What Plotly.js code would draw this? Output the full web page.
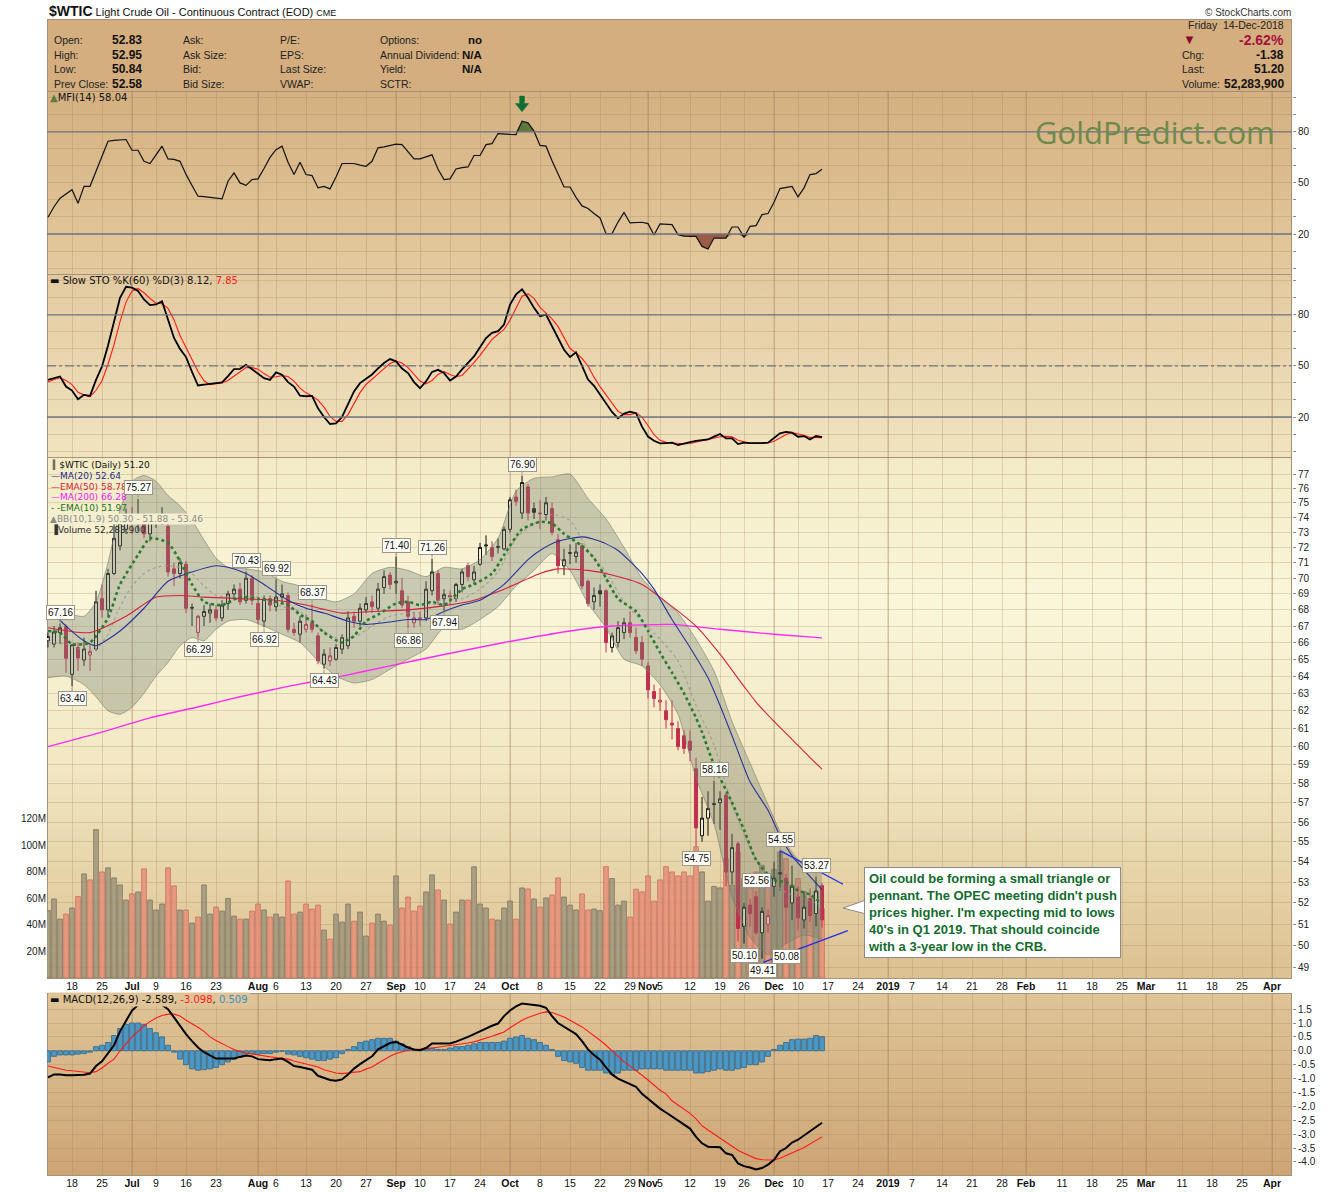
<!DOCTYPE html>
<html><head><meta charset="utf-8">
<script src="https://cdn.plot.ly/plotly-3.0.1.min.js"></script>
<style>
html,body{margin:0;padding:0;background:#fff;}
#wrap{position:relative;width:1340px;height:1192px;background:#ffffff;}
.pbg{position:absolute;left:47px;width:1245px;box-sizing:border-box;border:1px solid #a8917a;}
#chart{position:absolute;left:0;top:0;width:1340px;height:1192px;}
</style>
</head><body>
<div id="wrap">
  <div class="pbg" style="top:19px;height:73px;background:#d4ae7e;"></div>
  <div class="pbg" style="top:91px;height:184px;background:linear-gradient(to bottom,#d5b080,#e3ca9e);"></div>
  <div class="pbg" style="top:274px;height:184px;background:linear-gradient(to bottom,#e3caa0,#f0e4bf);"></div>
  <div class="pbg" style="top:457px;height:522px;background:linear-gradient(to bottom,#f3ebc6 0%,#f9f6da 28%,#f2e8c3 58%,#dcc191 100%);"></div>
  <div class="pbg" style="top:993px;height:183px;background:linear-gradient(to bottom,#dfc497,#cda575);"></div>
  <div id="chart"></div>
</div>
<script>
// ---------------- DATA ----------------
// trading-day index 0 = 12-Jun-2018 ... 129 = 14-Dec-2018
const opens = [66.10,65.90,66.60,66.96,64.10,65.70,64.95,65.25,65.60,68.70,68.00,70.30,72.10,73.20,74.20,73.90,73.70,72.90,73.80,73.90,
73.40,70.60,70.30,70.90,68.10,66.60,67.60,67.80,68.00,67.50,68.40,69.00,69.30,68.60,70.00,68.40,67.30,68.70,68.20,68.80,
68.90,66.80,66.50,66.80,67.20,66.40,64.70,64.90,65.00,65.60,65.80,67.60,67.30,68.00,68.50,68.10,69.40,70.20,69.70,69.20,
68.50,67.20,67.50,67.50,69.20,70.30,68.70,68.90,68.70,69.60,70.80,69.90,70.90,72.10,72.00,72.00,71.90,73.20,75.40,74.30,
76.10,74.60,74.30,74.20,74.60,72.50,70.80,71.60,71.40,72.10,69.80,68.50,69.20,69.20,65.70,66.00,66.60,67.20,66.30,66.00,
64.60,63.10,62.50,62.00,61.30,61.00,60.60,60.30,58.80,55.30,56.20,56.95,57.00,57.40,53.50,54.90,50.90,51.90,52.30,50.60,
51.00,52.80,53.40,53.20,52.00,52.30,51.20,52.20,51.50,52.83];
const highs = [66.60,67.00,67.16,67.10,65.90,66.00,66.30,65.90,69.20,69.60,70.60,73.80,74.10,74.60,74.70,75.27,74.30,74.00,74.20,74.70,
74.00,71.00,71.30,71.10,68.40,67.70,68.30,68.40,68.30,68.60,69.20,69.60,69.70,70.43,70.20,68.80,68.90,68.90,69.92,69.60,
69.10,67.20,67.60,67.70,68.37,66.60,65.60,65.70,65.90,66.50,67.90,67.90,68.40,68.80,68.90,69.70,70.50,70.40,71.40,70.00,
68.90,67.90,67.90,69.80,71.26,70.50,69.30,69.20,69.70,70.60,71.00,70.80,72.30,72.80,72.40,72.60,73.40,75.40,75.90,76.90,
76.30,75.00,75.20,75.40,75.00,72.90,71.90,72.20,72.30,72.30,69.90,69.40,69.60,69.30,66.60,67.30,67.50,67.90,66.90,66.40,
64.80,63.50,63.30,62.60,62.60,61.40,60.90,60.90,59.40,57.30,57.60,58.16,57.60,57.50,55.40,55.00,52.00,52.20,52.56,51.80,
51.70,54.00,54.55,53.40,53.80,52.80,52.50,52.70,53.27,52.95];
const lows = [65.70,65.70,65.90,64.20,63.40,64.30,64.60,64.30,65.50,67.50,67.60,70.20,71.80,72.90,72.90,73.10,72.60,72.40,73.30,73.50,
70.10,69.50,70.00,67.80,67.00,66.29,67.00,67.20,67.30,67.30,68.00,68.60,68.30,68.40,68.30,67.10,66.92,67.90,67.90,68.40,
66.60,66.40,66.00,66.60,66.60,64.70,64.43,64.60,64.90,65.30,65.60,66.90,67.00,67.80,67.80,67.90,69.00,69.30,69.00,68.10,
66.86,66.90,67.00,67.30,68.90,68.30,67.94,68.30,68.50,69.10,69.80,69.60,70.80,71.50,71.10,71.60,71.80,73.00,74.80,73.90,
73.80,73.90,73.20,73.80,72.80,70.30,70.20,70.90,71.00,69.30,68.20,68.00,68.20,65.40,65.40,65.70,66.20,66.30,65.30,64.60,
62.70,62.20,62.00,61.00,60.40,59.80,59.60,59.20,54.75,55.00,55.30,55.90,55.60,52.80,52.90,50.20,50.10,50.90,50.50,49.41,
50.60,52.30,52.60,50.08,51.20,50.70,50.80,51.10,50.90,50.84];
const closes = [66.36,66.64,66.89,65.06,65.85,65.07,65.60,65.45,68.50,68.00,70.30,72.60,73.60,74.20,73.90,74.10,72.90,73.80,73.85,74.10,
70.40,70.30,71.00,68.10,68.15,67.60,67.90,68.00,67.50,68.30,69.00,69.30,68.50,70.00,68.60,67.40,68.70,68.30,68.80,69.00,
66.80,66.60,67.30,67.10,66.80,64.90,65.30,65.20,65.70,66.30,67.50,67.30,68.10,68.40,68.20,69.30,70.10,69.60,69.80,68.30,
67.60,67.50,67.45,69.30,70.40,68.60,68.95,68.80,69.60,70.40,70.10,70.40,72.00,72.15,71.40,72.05,73.20,75.20,75.10,76.40,
74.30,74.35,74.25,75.00,73.00,70.80,71.20,71.65,71.70,69.50,68.40,68.90,69.00,66.00,66.40,66.90,67.20,66.60,65.50,65.00,
63.20,62.70,62.60,61.50,61.20,60.00,59.90,59.80,55.70,56.20,56.70,56.90,57.20,53.50,54.70,50.80,51.80,51.50,50.60,51.60,
51.40,53.20,53.45,51.80,52.80,51.30,51.80,51.40,52.58,51.20];
const volumeM = [50.8,59.6,44.4,48.2,52.8,61.4,78.5,74,111.9,80,83.1,75.5,70.2,58.8,63.4,64.9,82.3,58.8,51.3,55.8,
83.1,69.5,51.3,51.3,41.4,46,70.2,48.2,53.5,50.5,60,46.7,44.4,44.4,50.5,55.8,51.3,46,48.2,46,
73.2,48.2,49.7,55.8,52,55,36.1,29.3,48.2,42.2,55.8,42.9,49.7,31.6,41.4,48.2,42.9,39.9,77,52.8,
61.1,50.5,54.3,64.9,77.8,66.4,58.8,40.7,49.7,58.8,58.8,83.9,55.8,52.8,44.4,43.7,52.8,58.1,44.4,67.9,
67.2,59.6,53.5,60.4,62.6,75.5,61.1,55,51.3,63.4,51.3,52,50.8,84,75,55,58,46,67,65,
77,58,74,84,80,77,80,77,99,80,58,69,68,90,70,95,75,68,80,85,
72,82,95,90,70,75,65,60,65,52.28];

// overlays (sampled trading days)
const ma20Days = [0,3,6,8,12,16,20,24,28,30,33,36,40,43,46,50,53,56,60,63,66,69,72,76,80,82,85,89,92,95,99,101,104,107,110,112,114,117,120,122,124,126,129];
const ma20Vals = [68.1,67.0,66.1,65.8,66.7,68.1,69.8,70.4,70.8,70.7,70.3,69.6,68.6,68.1,67.8,67.3,67.1,67.2,67.4,67.4,67.9,68.3,68.6,69.6,71.2,71.8,72.4,72.7,72.4,71.8,70.3,69.3,67.4,65.7,63.9,62.3,60.6,58.1,56.6,55.3,54.3,53.6,52.64];
const ema50Days = [0,7,13,18,22,26,32,38,43,49,54,60,65,71,76,82,85,90,94,99,103,108,112,116,118,121,124,127,129];
const ema50Vals = [66.9,66.6,67.6,68.8,68.9,68.8,68.7,68.6,68.3,67.8,67.9,68.0,68.2,68.6,69.3,70.3,70.6,70.5,70.2,69.6,68.5,67.0,65.3,63.4,62.5,61.4,60.4,59.4,58.78];
const ma200Days = [0,9,17,26,32,40,49,57,65,76,87,94,104,112,121,129];
const ma200Vals = [60.0,60.8,61.6,62.3,62.8,63.4,64.0,64.6,65.2,66.0,66.7,67.0,67.1,66.8,66.5,66.28];
const ema10Days = [0,2,4,7,10,12,15,17,20,22,24,26,29,32,35,38,40,42,44,46,49,51,53,55,58,60,62,64,66,69,71,74,76,79,82,84,86,89,91,93,95,98,100,102,104,106,108,109,111,114,116,118,121,123,125,127,129];
const ema10Vals = [66.7,66.6,65.9,66.0,67.5,69.6,71.5,72.6,72.3,71.1,69.6,68.5,68.3,68.8,68.7,68.5,68.3,67.7,67.3,66.6,66.0,66.4,67.3,67.7,68.4,68.5,68.3,68.5,68.3,69.3,69.6,70.3,71.5,73.2,73.7,73.6,72.9,72.1,71.3,70.0,68.7,67.9,66.7,65.4,64.2,63.0,61.6,60.8,59.0,57.0,55.6,54.1,53.1,53.0,52.6,52.4,51.97];
const bbDays = [0,3,6,8,10,12,14,16,18,20,22,24,26,28,30,33,36,39,42,45,48,51,54,57,60,63,66,69,72,75,78,81,84,87,90,93,96,99,102,105,108,111,114,117,120,123,126,129];
const bbUpper = [68.0,67.8,67.6,68.5,71.0,74.5,76.5,76.9,76.5,75.5,74.8,73.8,72.5,71.3,70.7,70.6,70.4,69.8,69.5,68.8,68.5,69.0,70.3,70.7,70.5,70.1,70.7,70.6,71.2,72.6,75.8,76.7,76.8,77.0,75.3,73.9,72.0,70.0,68.8,67.8,66.2,64.3,61.4,59.1,56.9,54.9,53.8,53.46];
const bbLower = [63.9,64.0,63.5,62.8,62.0,61.8,62.2,63.0,64.0,64.8,65.8,66.3,66.1,66.8,67.3,67.4,67.0,66.5,66.0,64.9,64.0,63.6,63.8,64.4,65.0,65.6,66.9,66.8,67.4,68.2,69.5,70.5,71.6,70.5,68.4,66.9,65.0,64.6,63.5,61.8,58.3,55.9,52.3,50.4,49.6,50.1,50.5,50.3];
const bbMid = [66.0,65.9,65.5,65.6,66.5,68.2,69.5,70.3,70.7,70.8,70.7,70.3,69.5,68.9,68.8,68.9,68.7,68.2,67.9,66.9,66.3,66.3,67.0,67.6,67.8,67.9,68.8,68.7,69.3,70.4,72.6,73.6,74.2,73.8,71.8,70.4,68.5,67.3,66.2,64.9,62.3,60.1,56.9,54.7,53.2,52.5,52.2,51.88];

const mfi = [29.8,36,41,43.5,46,38,48,48,57,66,74.5,75,75.2,75.5,69.2,69.2,62.7,61.4,66.5,71.6,
64.1,63.8,62.7,55,48.5,42.2,42,41.6,41.2,40.6,51,55.9,50,48.6,52,52.4,58.5,65,69.5,71.6,
62.2,54.9,62.2,54.9,54.3,47.1,48,46.5,53.5,61.4,61.4,61.4,60.5,59.8,62.7,70.6,71.2,71.8,72.8,72.5,
68,64.1,64.1,65.5,66.5,58,52,52.4,58.2,59,59.4,66.1,66.1,72.5,73.1,79,78.6,78.5,78.4,86.3,
85.3,80.4,72,71.6,63,54.9,47.6,47.6,41.5,36.5,35,32,29.4,20.2,20.2,27,32.7,26.5,26.7,26.9,
26.1,19.4,25.9,25.7,25.5,19.6,18.8,18.6,18.6,12.7,11.2,17.6,17.6,17.6,24.1,24.1,18,24.5,24.9,31.4,
32,38.6,46.7,47.4,48,41.8,47.1,54.9,55.5,58.04];
const stoK = [41.8,43,43.8,37.9,35.5,30.4,33,32.4,41.8,49.7,62,76,90,96.5,96,94,89,85.7,86.1,88,
77.2,66.4,60,55.2,46.5,38.5,39,39.5,40,40.3,44,48.1,48.3,50.7,48.1,45.5,42.8,41.8,46.2,44.8,
40.5,37.9,32.5,32.2,32.4,25.1,20,15.9,16.2,20,28,35,39.9,42.5,45,48.5,51.7,54,52.7,48.5,
45.8,40.5,36.9,40.9,46.5,47.7,45.8,41.4,43.8,48,52,55.6,61,66.4,69.4,70.4,74.3,86,92,95,
90,84.1,79.2,80.2,73.3,66,59.5,55.2,58,50,42,38.3,33,28.1,23,19.2,22,23.1,22.2,14.3,
8.5,6,4.5,4.7,4.9,3.5,4.5,5.2,6,6.4,6.8,8.5,10,7.4,7.4,4.1,4.9,4.6,4.5,4.7,
4.9,7.5,10.4,11.3,10.8,8.4,8.8,6.8,8.8,8.12];
const stoD = [40.5,42,43,41.5,39,34.5,33,32,35.7,41.3,51,62.5,76,87.5,94,95.5,93,89.6,87,86.6,
83.8,77.2,67.9,60.5,53.9,46.7,41.3,39,39.5,40,41.4,44.1,46.8,49,49,48.1,45.5,43.4,43.6,44.3,
43.8,41.1,37,34.2,32.4,29.9,25.8,20.3,17.4,17.4,21.4,27.7,34.3,39.1,42.5,45.3,48.4,51.4,52.8,51.7,
49,44.9,41.1,39.4,41.4,45,46.7,45,43.7,44.4,47.9,51.9,56.2,61,65.6,68.6,71.4,76.9,84.1,91,
92.3,89.7,84.4,81.2,77.6,73.2,66.3,60.2,57.6,54.4,50,43.4,37.8,33.1,28,23.4,21.4,21.4,22.4,19.9,
15,9.6,6.3,5.1,4.7,4.4,4.3,4.4,5.2,5.9,6.4,7.2,8.4,8.6,8.3,6.3,5.5,4.5,4.7,4.6,
4.7,5.7,7.6,9.7,10.8,10.2,9.3,8,8.1,7.85];
const macdLine = [-0.96,-0.85,-0.85,-0.88,-0.88,-0.88,-0.86,-0.82,-0.55,-0.38,-0.1,0.2,0.7,1.1,1.45,1.65,1.8,1.85,1.82,1.65,
1.5,1.2,0.9,0.6,0.35,0.12,-0.05,-0.18,-0.28,-0.28,-0.28,-0.28,-0.22,-0.17,-0.2,-0.3,-0.32,-0.34,-0.3,-0.28,
-0.4,-0.55,-0.58,-0.62,-0.68,-0.9,-0.98,-1.05,-1.08,-1.03,-0.85,-0.64,-0.48,-0.33,-0.2,0.05,0.18,0.28,0.32,0.22,
0.12,0.05,0.02,0.1,0.26,0.26,0.26,0.26,0.33,0.41,0.5,0.6,0.7,0.82,0.9,0.98,1.25,1.45,1.6,1.7,
1.67,1.64,1.62,1.55,1.25,1.0,0.86,0.72,0.6,0.35,0.05,-0.15,-0.32,-0.6,-0.85,-1.0,-1.1,-1.2,-1.3,-1.55,
-1.72,-1.92,-2.08,-2.22,-2.37,-2.5,-2.65,-2.8,-3.1,-3.33,-3.45,-3.45,-3.47,-3.69,-3.75,-4.05,-4.15,-4.2,-4.27,-4.22,
-4.1,-3.92,-3.62,-3.5,-3.3,-3.2,-3.05,-2.9,-2.72,-2.589];
const macdSignal = [-0.55,-0.6,-0.65,-0.7,-0.72,-0.75,-0.77,-0.79,-0.75,-0.62,-0.45,-0.3,0.0,0.25,0.5,0.7,0.9,1.05,1.18,1.27,
1.32,1.32,1.25,1.1,0.98,0.85,0.7,0.5,0.37,0.25,0.15,0.05,-0.03,-0.08,-0.12,-0.16,-0.2,-0.22,-0.24,-0.26,
-0.3,-0.37,-0.42,-0.48,-0.52,-0.58,-0.68,-0.75,-0.8,-0.82,-0.8,-0.78,-0.75,-0.66,-0.58,-0.45,-0.32,-0.2,-0.1,-0.03,
0.02,0.04,0.05,0.07,0.1,0.13,0.16,0.18,0.2,0.24,0.28,0.32,0.38,0.45,0.52,0.6,0.68,0.83,0.98,1.1,
1.2,1.28,1.35,1.4,1.38,1.3,1.22,1.1,0.98,0.86,0.7,0.55,0.38,0.2,0.0,-0.2,-0.4,-0.55,-0.7,-0.88,
-1.05,-1.25,-1.42,-1.55,-1.8,-1.95,-2.1,-2.25,-2.45,-2.7,-2.85,-3.0,-3.12,-3.3,-3.45,-3.58,-3.69,-3.8,-3.88,-3.92,
-3.93,-3.93,-3.87,-3.78,-3.68,-3.58,-3.48,-3.36,-3.24,-3.098];
const macdHist = [-0.4,-0.2,-0.15,-0.15,-0.15,-0.12,-0.1,-0.05,0.15,0.2,0.3,0.55,0.8,0.95,1.0,1.0,0.95,0.8,0.65,0.5,
0.2,-0.05,-0.3,-0.5,-0.65,-0.7,-0.68,-0.65,-0.6,-0.5,-0.4,-0.3,-0.2,-0.12,-0.1,-0.12,-0.1,-0.1,-0.05,-0.02,
-0.12,-0.15,-0.2,-0.25,-0.3,-0.35,-0.35,-0.3,-0.25,-0.1,0.05,0.15,0.3,0.35,0.4,0.45,0.45,0.45,0.35,0.25,
0.15,0.05,0.05,0.1,0.1,0.05,0.05,0.1,0.15,0.15,0.2,0.25,0.3,0.3,0.3,0.3,0.35,0.45,0.5,0.55,
0.45,0.4,0.3,0.2,0.05,-0.2,-0.35,-0.4,-0.45,-0.6,-0.7,-0.7,-0.7,-0.8,-0.85,-0.8,-0.7,-0.7,-0.7,-0.65,
-0.65,-0.65,-0.65,-0.7,-0.7,-0.7,-0.7,-0.7,-0.8,-0.8,-0.75,-0.7,-0.65,-0.7,-0.7,-0.65,-0.6,-0.5,-0.5,-0.4,
-0.2,0.05,0.2,0.3,0.4,0.42,0.42,0.45,0.55,0.509];

// user-drawn triangle lines (day index, price)
const trendUpperX = [122, 132.5], trendUpperY = [54.55, 52.9];
const trendLowerX = [119.2, 133.3], trendLowerY = [49.25, 50.7];

// price flags
const highFlagIdx = [2,15,33,38,44,58,64,79,111,118,122,128];
const lowFlagIdx = [4,25,36,46,60,66,108,116,119,123];

// axis ticks
const tickIdx = [4,9,14,18,23,28,35,38,43,48,53,58,62,67,72,77,82,87,92,97,100,102,107,112,116,121,125,130,135,140,144,149,154,159,163,169,174,179,183,189,194,199,204];
const tickText = ['18','25','<b>Jul</b>','9','16','23','<b>Aug</b>','6','13','20','27','<b>Sep</b>','10','17','24','<b>Oct</b>','8','15','22','29','<b>Nov</b>','5','12','19','26','<b>Dec</b>','10','17','24','<b>2019</b>','7','14','21','28','<b>Feb</b>','11','18','25','<b>Mar</b>','11','18','25','<b>Apr</b>'];
const monthIdx = [14,35,58,77,100,121,140,163,183,204];
const priceTicks = [49,50,51,52,53,54,55,56,57,58,59,60,61,62,63,64,65,66,67,68,69,70,71,72,73,74,75,76,77];
const volTicks = [20e6,40e6,60e6,80e6,100e6,120e6];
const volTickText = ['20M','40M','60M','80M','100M','120M'];
const oscTicks = [0,10,20,30,40,50,60,70,80,90,100];
const oscTickText = ['','','20','','','50','','','80','',''];
const macdTicks = [-4,-3.5,-3,-2.5,-2,-1.5,-1,-0.5,0,0.5,1,1.5];
const macdTickText = ['-4.0','-3.5','-3.0','-2.5','-2.0','-1.5','-1.0','-0.5','0.0','0.5','1.0','1.5'];

// header texts
const headLeftLabels = ['Open:','High:','Low:','Prev Close:'];
const headLeftValues = ['52.83','52.95','50.84','52.58'];
const headCol2 = ['Ask:','Ask Size:','Bid:','Bid Size:'];
const headCol3 = ['P/E:','EPS:','Last Size:','VWAP:'];
const headCol4 = ['Options:','Annual Dividend:','Yield:','SCTR:'];
const headCol4Values = ['no','N/A','N/A',''];
const headRightLabels = ['Chg:','Last:','Volume:'];
const headRightValues = ['-1.38','51.20','52,283,900'];

// ---------------- LAYOUT HELPERS ----------------
const PX = x => (x - 47) / 1245;
const PY = y => (1175 - y) / 1084;
const SANS = 'Liberation Sans, Arial, sans-serif';
const VERD = 'DejaVu Sans, Verdana, sans-serif';
function note(x, y, text, o) {
  o = o || {};
  const a = {xref:'paper', yref:'paper', x:PX(x), y:PY(y), text:text, showarrow:false,
    xanchor:o.xa || 'left', yanchor:o.ya || 'middle',
    font:{family:o.family || SANS, size:o.size || 11, color:o.color || '#222'}};
  if (o.bg) { a.bgcolor = o.bg; a.borderpad = o.pad || 0; }
  return a;
}

const dMFI = [PY(274), 1];
const dSTO = [PY(457), PY(274)];
const dPRC = [PY(978), PY(457)];
const dMACD = [0, PY(993)];

// ---------------- TRACES ----------------
const days = closes.map((_, i) => i);
const upDay = closes.map((c, i) => i === 0 || c >= closes[i - 1]);
function pick(arr, flag) { return arr.filter((_, i) => upDay[i] === flag); }

const traces = [];
// MFI panel
traces.push({x:days, y:mfi.map(() => 80), type:'scatter', mode:'lines', line:{width:0, color:'rgba(0,0,0,0)'}, xaxis:'x', yaxis:'y', hoverinfo:'skip'});
traces.push({x:days, y:mfi.map(v => Math.max(v, 80)), type:'scatter', mode:'lines', fill:'tonexty', fillcolor:'#5d7a3c', line:{width:0, color:'rgba(0,0,0,0)'}, xaxis:'x', yaxis:'y', hoverinfo:'skip'});
traces.push({x:days, y:mfi.map(() => 20), type:'scatter', mode:'lines', line:{width:0, color:'rgba(0,0,0,0)'}, xaxis:'x', yaxis:'y', hoverinfo:'skip'});
traces.push({x:days, y:mfi.map(v => Math.min(v, 20)), type:'scatter', mode:'lines', fill:'tonexty', fillcolor:'#9c5b45', line:{width:0, color:'rgba(0,0,0,0)'}, xaxis:'x', yaxis:'y', hoverinfo:'skip'});
traces.push({x:days, y:mfi, type:'scatter', mode:'lines', line:{color:'#111', width:1.2}, xaxis:'x', yaxis:'y', hoverinfo:'skip'});
// STO panel
traces.push({x:days, y:stoD, type:'scatter', mode:'lines', line:{color:'#ff1a1a', width:1.1}, xaxis:'x', yaxis:'y2', hoverinfo:'skip'});
traces.push({x:days, y:stoK, type:'scatter', mode:'lines', line:{color:'#000', width:1.8}, xaxis:'x', yaxis:'y2', hoverinfo:'skip'});
// price panel: volume (base axis y3)
traces.push({x:days, y:volumeM.map(v => v * 1e6), type:'bar', width:0.78, xaxis:'x', yaxis:'y3', hoverinfo:'skip',
  marker:{color:upDay.map(u => u ? 'rgba(160,150,125,0.85)' : 'rgba(232,142,120,0.82)'),
          line:{color:upDay.map(u => u ? '#7d745f' : '#c8705e'), width:0.8}}});
// Bollinger band
traces.push({x:bbDays, y:bbLower, type:'scatter', mode:'lines', line:{color:'rgba(120,124,110,0.6)', width:1, shape:'spline', smoothing:0.6}, xaxis:'x', yaxis:'y4', hoverinfo:'skip'});
traces.push({x:bbDays, y:bbUpper, type:'scatter', mode:'lines', fill:'tonexty', fillcolor:'rgba(120,128,112,0.36)', line:{color:'rgba(120,124,110,0.6)', width:1, shape:'spline', smoothing:0.6}, xaxis:'x', yaxis:'y4', hoverinfo:'skip'});
traces.push({x:bbDays, y:bbMid, type:'scatter', mode:'lines', line:{color:'rgba(150,150,140,0.75)', width:1.2, dash:'dot', shape:'spline', smoothing:0.6}, xaxis:'x', yaxis:'y4', hoverinfo:'skip'});
traces.push({x:ma200Days, y:ma200Vals, type:'scatter', mode:'lines', line:{color:'#ff2bf5', width:1.4, shape:'spline', smoothing:0.5}, xaxis:'x', yaxis:'y4', hoverinfo:'skip'});
traces.push({x:ema50Days, y:ema50Vals, type:'scatter', mode:'lines', line:{color:'#d4203c', width:1.1, shape:'spline', smoothing:0.6}, xaxis:'x', yaxis:'y4', hoverinfo:'skip'});
traces.push({x:ma20Days, y:ma20Vals, type:'scatter', mode:'lines', line:{color:'#28339a', width:1.1, shape:'spline', smoothing:0.6}, xaxis:'x', yaxis:'y4', hoverinfo:'skip'});
traces.push({x:ema10Days, y:ema10Vals, type:'scatter', mode:'lines', line:{color:'#2a7a2f', width:2.6, dash:'dot', shape:'spline', smoothing:0.6}, xaxis:'x', yaxis:'y4', hoverinfo:'skip'});
// candles: black outline (close >= previous close) and red outline (close < previous close)
const cream = '#faf6e2', crimson = '#c0304e';
traces.push({type:'candlestick', x:pick(days, true), open:pick(opens, true), high:pick(highs, true), low:pick(lows, true), close:pick(closes, true),
  increasing:{line:{color:'#111', width:1}, fillcolor:cream}, decreasing:{line:{color:'#111', width:1}, fillcolor:'#222'},
  whiskerwidth:0, xaxis:'x', yaxis:'y4', hoverinfo:'skip'});
traces.push({type:'candlestick', x:pick(days, false), open:pick(opens, false), high:pick(highs, false), low:pick(lows, false), close:pick(closes, false),
  increasing:{line:{color:crimson, width:1}, fillcolor:cream}, decreasing:{line:{color:crimson, width:1}, fillcolor:crimson},
  whiskerwidth:0, xaxis:'x', yaxis:'y4', hoverinfo:'skip'});
traces.push({x:trendUpperX, y:trendUpperY, type:'scatter', mode:'lines', line:{color:'#1f2fe6', width:1.3}, xaxis:'x', yaxis:'y4', hoverinfo:'skip'});
traces.push({x:trendLowerX, y:trendLowerY, type:'scatter', mode:'lines', line:{color:'#1f2fe6', width:1.3}, xaxis:'x', yaxis:'y4', hoverinfo:'skip'});
// MACD panel
traces.push({x:days, y:macdHist, type:'bar', width:0.8, xaxis:'x2', yaxis:'y5', hoverinfo:'skip',
  marker:{color:'#4b98c6', line:{color:'#2d6488', width:0.8}}});
traces.push({x:days, y:macdSignal, type:'scatter', mode:'lines', line:{color:'#ff1a1a', width:1.1}, xaxis:'x2', yaxis:'y5', hoverinfo:'skip'});
traces.push({x:days, y:macdLine, type:'scatter', mode:'lines', line:{color:'#000', width:2}, xaxis:'x2', yaxis:'y5', hoverinfo:'skip'});

// ---------------- AXES ----------------
const gridC = 'rgba(160,128,90,0.26)';
const xCommon = {range:[-0.17, 207.33], tickmode:'array', tickvals:tickIdx, ticktext:tickText, tickangle:0,
  showgrid:true, gridcolor:gridC, gridwidth:1, zeroline:false, ticks:'', showline:false,
  tickfont:{family:SANS, size:10.5, color:'#111'}, fixedrange:true, domain:[0, 1]};
const yRight = {side:'right', anchor:'x', ticks:'outside', ticklen:3, tickcolor:'#9a8a78',
  showline:false, zeroline:false, showgrid:true, gridcolor:gridC,
  tickfont:{family:SANS, size:10, color:'#222'}, fixedrange:true, tickmode:'array'};

const layout = {
  width:1340, height:1192, margin:{l:47, r:48, t:91, b:17},
  paper_bgcolor:'rgba(255,255,255,0)', plot_bgcolor:'rgba(255,255,255,0)',
  showlegend:false, hovermode:false, bargap:0, barmode:'overlay', boxmode:'overlay',
  xaxis:Object.assign({}, xCommon, {anchor:'y3', rangeslider:{visible:false}}),
  xaxis2:Object.assign({}, xCommon, {anchor:'y5', matches:'x'}),
  yaxis:Object.assign({}, yRight, {domain:dMFI, range:[-3.5, 104], tickvals:oscTicks, ticktext:oscTickText}),
  yaxis2:Object.assign({}, yRight, {domain:dSTO, range:[-3.5, 104], tickvals:oscTicks, ticktext:oscTickText}),
  yaxis3:{domain:dPRC, anchor:'x', side:'left', range:[0, 393e6], tickmode:'array', tickvals:volTicks, ticktext:volTickText,
    showgrid:false, zeroline:false, ticks:'', showline:false, fixedrange:true, tickfont:{family:SANS, size:10, color:'#222'}},
  yaxis4:Object.assign({}, yRight, {overlaying:'y3', type:'log', range:[Math.log10(48.55), Math.log10(78.21)],
    tickvals:priceTicks, ticktext:priceTicks.map(String)}),
  yaxis5:Object.assign({}, yRight, {anchor:'x2', domain:dMACD, range:[-4.47, 2.08], tickvals:macdTicks, ticktext:macdTickText}),
  shapes:[], annotations:[]
};

// reference lines
[['y', 80], ['y', 20], ['y2', 80], ['y2', 20]].forEach(r => layout.shapes.push({type:'line', xref:'paper', x0:0, x1:1, yref:r[0], y0:r[1], y1:r[1], line:{color:'#6f7482', width:1.3}}));
layout.shapes.push({type:'line', xref:'paper', x0:0, x1:1, yref:'y2', y0:50, y1:50, line:{color:'#6f7482', width:1.2, dash:'dashdot'}});
// darker month gridlines
[dMFI, dSTO, dPRC].forEach(d => monthIdx.forEach(m => layout.shapes.push({type:'line', xref:'x', x0:m, x1:m, yref:'paper', y0:d[0], y1:d[1], line:{color:'rgba(150,118,85,0.42)', width:1}, layer:'below'})));
monthIdx.forEach(m => layout.shapes.push({type:'line', xref:'x2', x0:m, x1:m, yref:'paper', y0:dMACD[0], y1:dMACD[1], line:{color:'rgba(150,118,85,0.42)', width:1}, layer:'below'}));
// MFI signal arrow (block arrow at the overbought peak, day 79)
layout.shapes.push({type:'path', xref:'x', yref:'y', path:'M 78.6,101 L 79.4,101 L 79.4,96.6 L 80.1,96.6 L 79,91.8 L 77.9,96.6 L 78.6,96.6 Z',
  fillcolor:'#0d7032', line:{color:'#0d7032', width:0.5}});
// callout pointer
layout.shapes.push({type:'path', xref:'paper', yref:'paper', path:'M ' + PX(866) + ',' + PY(900) + ' L ' + PX(843) + ',' + PY(908) + ' L ' + PX(866) + ',' + PY(914) + ' Z',
  fillcolor:'#ffffff', line:{color:'#8a8a8a', width:1}});

const A = layout.annotations;
// header
A.push(note(47, 11, '<span style="font-size:14px"><b>$WTIC</b></span> Light Crude Oil - Continuous Contract (EOD) <span style="font-size:9px">CME</span>', {size:11, color:'#111'}));
A.push(note(1293, 12, '\u00a9 StockCharts.com', {xa:'right', size:10, color:'#333'}));
[40, 55, 69, 84].forEach((yy, k) => {
  A.push(note(52, yy, headLeftLabels[k], {size:10.5}));
  A.push(note(144, yy, '<b>' + headLeftValues[k] + '</b>', {xa:'right', size:12, color:'#111'}));
  A.push(note(181, yy, headCol2[k], {size:10.5}));
  A.push(note(278, yy, headCol3[k], {size:10.5}));
  A.push(note(378, yy, headCol4[k], {size:10.5}));
  if (headCol4Values[k]) A.push(note(484, yy, '<b>' + headCol4Values[k] + '</b>', {xa:'right', size:11.5, color:'#111'}));
});
A.push(note(1286, 25, 'Friday  14-Dec-2018', {xa:'right', size:10.5}));
A.push(note(1181, 40, '\u25bc', {size:13, color:'#8b0a2a'}));
A.push(note(1286, 40, '<b>-2.62%</b>', {xa:'right', size:14, color:'#a3123e'}));
[55, 69, 84].forEach((yy, k) => {
  A.push(note(1180, yy, headRightLabels[k], {size:10.5}));
  A.push(note(1286, yy, '<b>' + headRightValues[k] + '</b>', {xa:'right', size:12, color:'#111'}));
});
// watermark
A.push(note(1155, 132, 'GoldPredict.com', {xa:'center', size:31, color:'#6e8a4b', family:'Open Sans, Lato, sans-serif'}));
// panel legends
A.push(note(48, 98, '<span style="color:#5d7a3c">\u25b2</span>MFI(14) 58.04', {size:10, family:VERD, color:'#111'}));
A.push(note(48, 281, '\u25ac Slow STO %K(60) %D(3) 8.12, <span style="color:#ff1a1a">7.85</span>', {size:10, family:VERD, color:'#111'}));
A.push(note(48, 999, '\u25ac MACD(12,26,9) -2.589, <span style="color:#ff1a1a">-3.098</span>, <span style="color:#3d8fc4">0.509</span>', {size:10, family:VERD, color:'#111', bg:'#dfc497', pad:1}));
const legendRows = [
  ['<b>\u2551</b> $WTIC (Daily) 51.20', '#111', null],
  ['\u2014MA(20) 52.64', '#1e2a8c', null],
  ['\u2014EMA(50) 58.78', '#cf1f3a', null],
  ['\u2014MA(200) 66.28', '#f020f0', null],
  ['- -EMA(10) 51.97', '#1f6f24', null],
  ['\u25b2BB(10,1.9) 50.30 - 51.88 - 53.46', '#8c8c80', '#f4efd2'],
  ['\u2590Volume 52,283,900', '#333', null]
];
legendRows.forEach((r, k) => A.push(note(49, 465 + k * 10.8, r[0], {size:9, family:VERD, color:r[1], bg:r[2], pad:0})));

// high / low flags
function flag(i, val, up) {
  return {x:i, y:Math.log10(val), xref:'x', yref:'y4', text:val.toFixed(2), showarrow:true, arrowhead:0,
    arrowwidth:1, arrowcolor:'#a09484', ax:0, ay:up ? -11 : 12, standoff:1, bgcolor:'#fffffa',
    bordercolor:'#a09484', borderwidth:1, borderpad:1, font:{family:SANS, size:10, color:'#111'}};
}
highFlagIdx.forEach(i => A.push(flag(i, highs[i], true)));
lowFlagIdx.forEach(i => A.push(flag(i, lows[i], false)));

// callout text
A.push({xref:'paper', yref:'paper', x:PX(864), y:PY(867), xanchor:'left', yanchor:'top', align:'left', showarrow:false,
  text:'<b>Oil could be forming a small triangle or<br>pennant. The OPEC meeting didn\'t push<br>prices higher. I\'m expecting mid to lows<br>40\'s in Q1 2019. That should coincide<br>with a 3-year low in the CRB.</b>',
  font:{family:SANS, size:13, color:'#146b2e'}, bgcolor:'#ffffff', bordercolor:'#8a8a8a', borderwidth:1, borderpad:3});

Plotly.newPlot('chart', traces, layout, {displayModeBar:false, staticPlot:true});
</script></body></html>
